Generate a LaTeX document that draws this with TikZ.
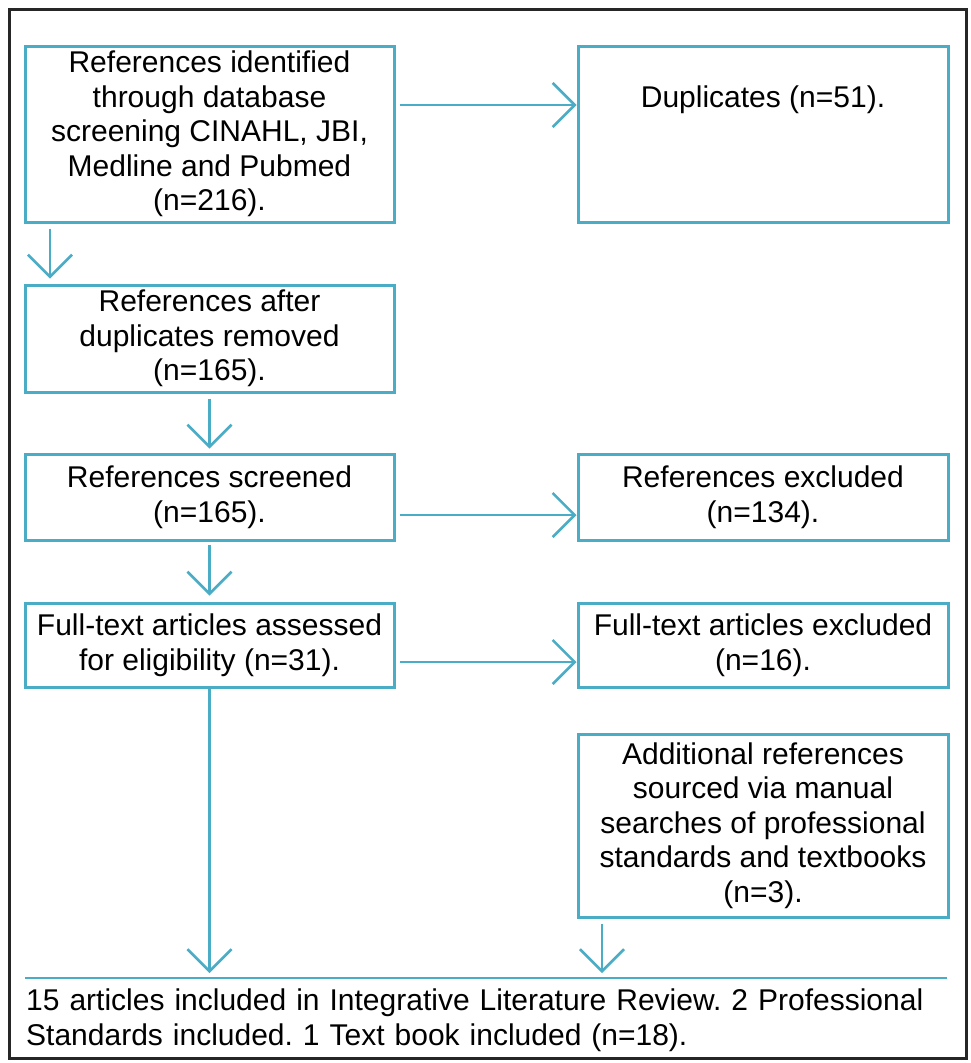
\documentclass[tikz,border=0pt]{standalone}
\usepackage{fontspec}
\setmainfont{Liberation Sans}
\usetikzlibrary{arrows.meta}
\definecolor{ablue}{HTML}{4BACC6}
\definecolor{frame}{HTML}{262626}
\frenchspacing
\begin{document}
\begin{tikzpicture}[x=1pt,y=-1pt,
  txt/.style={font=\fontsize{30}{34.5}\selectfont, text=black, align=center, inner sep=0pt},
  box/.style={txt, draw=ablue, line width=3pt, minimum width=369pt},
  arr/.style={draw=ablue, line width=2.6pt, -{Straight Barb[length=22pt,width=44pt,line width=2.6pt]}},
  bline/.style={draw=ablue, line width=2.6pt}]
\useasboundingbox (0,0) rectangle (971,1063);
\draw[frame, line width=3pt] (9,9) rectangle (966,1058);

\node[box, minimum height=176pt] (b1) at (209.5,134) {References identified\\through database\\screening CINAHL, JBI,\\Medline and Pubmed\\(n=216).};
\node[box, minimum width=370pt, minimum height=176pt,
      label={[txt, yshift=34pt]center:Duplicates (n=51).}] (dup) at (763,134) {};
\node[box, minimum height=107pt] (b2) at (209.5,338.5) {References after\\duplicates removed\\(n=165).};
\node[box, minimum height=86pt] (b3) at (209.5,497) {References screened\\(n=165).};
\node[box, minimum width=370pt, minimum height=86pt] (rex) at (763,497) {References excluded\\(n=134).};
\node[box, minimum height=84pt] (b4) at (209.5,645) {Full-text articles assessed\\for eligibility (n=31).};
\node[box, minimum width=370pt, minimum height=84pt] (fex) at (763,645) {Full-text articles excluded\\(n=16).};
\node[box, minimum width=370pt, minimum height=183pt] (add) at (763,825.5) {Additional references\\sourced via manual\\searches of professional\\standards and textbooks\\(n=3).};
\node[txt, align=left, anchor=north west, text width=920pt, inner xsep=1pt, inner ysep=11pt] (fin) at (25,978)
  {15 articles included in Integrative Literature Review. 2 Professional\\Standards included. 1 Text book included (n=18).};
\draw[bline] (fin.north west) -- (fin.north east);

\draw[arr, shorten <=4pt] (b1.east |- 0,105) -- (dup.west |- 0,105);
\draw[arr, shorten <=5pt, shorten >=5pt] (b1.south -| 50,0) -- (b2.north -| 50,0);
\draw[arr, shorten <=5pt, shorten >=4pt] (b2.south) -- (b3.north);
\draw[arr, shorten <=4pt] (b3.east |- 0,515) -- (rex.west |- 0,515);
\draw[arr, shorten <=3pt, shorten >=6pt] (b3.south) -- (b4.north);
\draw[arr, shorten <=4pt] (b4.east |- 0,662) -- (fex.west |- 0,662);
\draw[arr, shorten >=5pt] (b4.south) -- (b4.south |- fin.north);
\draw[arr, shorten <=5pt, shorten >=5pt] (add.south -| 602,0) -- (fin.north -| 602,0);
\end{tikzpicture}
\end{document}
